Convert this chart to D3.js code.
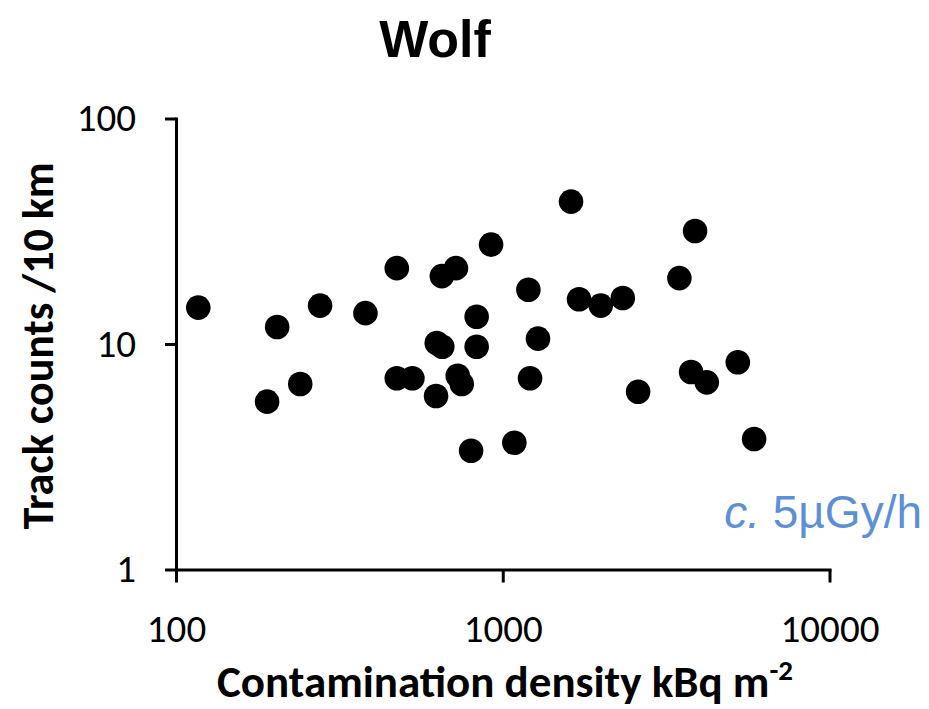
<!DOCTYPE html>
<html>
<head>
<meta charset="utf-8">
<script src="https://cdn.jsdelivr.net/npm/d3@7"></script>
<style>
  html, body { margin: 0; padding: 0; background: #fff; }
  svg { display: block; }
</style>
</head>
<body>
<svg id="chart" width="929" height="709"></svg>
<script>
// Data
const density = [1618, 3878, 921, 474, 719, 651, 1198, 3472, 1712, 1995, 2330, 832,
  628, 653, 832, 1282, 474, 529, 728, 749, 625, 1212, 5241, 3770, 4211, 2596,
  800, 1085, 5879, 117, 204, 276, 380, 190, 240];
const tracks = [42.8, 31.7, 27.6, 21.7, 21.7, 20.0, 17.4, 19.6, 15.8, 14.8, 16.0, 13.2,
  10.1, 9.73, 9.73, 10.56, 7.05, 7.05, 7.23, 6.65, 5.88, 7.05, 8.30, 7.51, 6.76, 6.14,
  3.36, 3.65, 3.79, 14.5, 11.9, 14.8, 13.7, 5.55, 6.65];
const xTicks = [100, 1000, 10000];
const yTicks = [1, 10, 100];
const title = "Wolf";
const xTitle = "Contamination density kBq m";
const yTitle = "Track counts /10 km";
const note = "5\u00B5Gy/h";

const svg = d3.select("#chart");
const tickFont = "Carlito, Calibri, Lato, sans-serif";

const x = d3.scaleLog().domain([100, 10000]).range([176, 829.5]);
const y = d3.scaleLog().domain([1, 100]).range([569.5, 118.5]);

// points
svg.append("g").selectAll("circle")
  .data(density.map((d, i) => [d, tracks[i]]))
  .join("circle")
  .attr("cx", d => x(d[0]))
  .attr("cy", d => y(d[1]))
  .attr("r", 12.3)
  .attr("fill", "#000");

// axes
const xAxis = d3.axisBottom(x).tickValues(xTicks).tickFormat(d3.format("d"))
  .tickSize(13).tickSizeOuter(0).tickPadding(59);
const yAxis = d3.axisLeft(y).tickValues(yTicks).tickFormat(d3.format("d"))
  .tickSize(11).tickSizeOuter(0).tickPadding(29);

const gx = svg.append("g").attr("transform", "translate(0,569.5)").call(xAxis);
const gy = svg.append("g").attr("transform", "translate(176,0)").call(yAxis);

[gx, gy].forEach(g => {
  g.selectAll("path.domain").attr("stroke", "#000").attr("stroke-width", 3)
    .attr("stroke-linecap", "square");
  g.selectAll(".tick line").attr("stroke", "#000").attr("stroke-width", 3);
  g.selectAll(".tick text").attr("fill", "#000")
    .style("font-family", tickFont).style("font-size", "39px");
});
gx.selectAll(".tick text").attr("dy", "0");

// title
svg.append("text")
  .attr("x", 435).attr("y", 57)
  .attr("text-anchor", "middle")
  .style("font-family", "Liberation Sans, Arial, sans-serif")
  .style("font-weight", "bold").style("font-size", "52px")
  .text(title);

// x axis title
const xt = svg.append("text")
  .attr("x", 505).attr("y", 697)
  .attr("text-anchor", "middle")
  .style("font-family", tickFont)
  .style("font-weight", "bold").style("font-size", "45px");
xt.append("tspan").text(xTitle);
xt.append("tspan").attr("dy", -17).style("font-size", "29px").text("-2");

// y axis title
svg.append("text")
  .attr("transform", "translate(53,346) rotate(-90)")
  .attr("text-anchor", "middle")
  .style("font-family", tickFont)
  .style("font-weight", "bold").style("font-size", "44px")
  .text(yTitle);

// note
const nt = svg.append("text")
  .attr("x", 922).attr("y", 528)
  .attr("text-anchor", "end")
  .attr("fill", "#5b8fd6")
  .style("font-family", "Liberation Sans, Arial, sans-serif")
  .style("font-size", "46px");
nt.append("tspan").style("font-style", "italic").text("c.");
nt.append("tspan").text(" " + note);
</script>
</body>
</html>
